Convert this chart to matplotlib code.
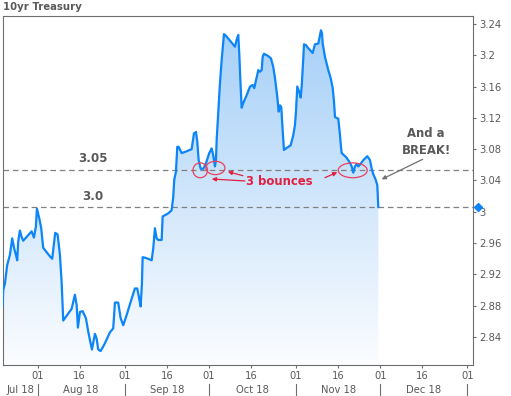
import numpy as np
import matplotlib
matplotlib.use("Agg")
import matplotlib.pyplot as plt
import matplotlib.dates as mdates
import matplotlib.transforms as mtransforms
from matplotlib.patches import Ellipse
from matplotlib.ticker import FuncFormatter
from datetime import datetime, timedelta


# 10yr yield (days counted from 2018-08-01)
base = datetime(2018, 8, 1)
days_from_aug1 = [
    -12.46, -12.25, -11.65, -10.83, -9.86, -9.05, -8.33, -7.73, -7.26, -6.91,
    -6.30, -5.70, -5.13, -2.14, -1.32, -0.61, -0.25, 0.57, 1.28, 1.99,
    4.38, 5.20, 5.56, 6.27, 7.12, 7.94, 8.55, 9.12, 9.72, 12.11,
    13.28, 13.89, 14.35, 15.06, 16.03, 17.20, 18.02, 18.63, 19.34, 20.41,
    21.01, 21.58, 22.44, 23.97, 25.75, 26.92, 27.53, 28.70, 29.56, 30.48,
    31.70, 33.48, 34.65, 35.47, 36.18, 36.68, 37.14, 37.39, 38.57, 40.60,
    41.17, 41.77, 42.38, 42.95, 44.16, 44.52, 46.51, 47.72, 48.29, 48.65,
    49.25, 49.72, 50.21, 51.28, 52.81, 54.84, 55.66, 56.38, 56.84, 57.34,
    58.05, 58.97, 59.94, 61.11, 61.97, 62.54, 63.14, 63.50, 63.75, 64.32,
    64.92, 65.53, 66.35, 67.06, 69.09, 70.26, 70.87, 71.44, 71.79, 72.29,
    72.65, 73.22, 74.43, 75.61, 76.57, 77.14, 77.74, 78.21, 78.56, 79.17,
    79.77, 80.13, 80.59, 82.12, 83.09, 83.90, 84.51, 85.33, 85.83, 86.29,
    86.75, 87.25, 87.71, 88.43, 90.10, 91.03, 91.63, 91.99, 92.45, 93.16,
    93.66, 94.02, 94.37, 94.59, 94.84, 95.55, 96.37, 97.93, 98.75, 99.93,
    100.53, 100.89, 101.25, 101.50, 102.31, 103.49, 104.34, 105.06, 105.52, 105.88,
    107.05, 107.66, 108.01, 108.26, 109.79, 110.97, 111.82, 112.39, 113.00, 113.60,
    114.17, 115.14, 115.95, 117.38, 118.34, 118.95, 119.52, 120.37, 120.94, 121.30,
]
yields = [
    2.879, 2.900, 2.908, 2.932, 2.945, 2.966, 2.953, 2.945, 2.938, 2.962,
    2.976, 2.968, 2.963, 2.975, 2.967, 2.981, 3.004, 2.992, 2.979, 2.954,
    2.943, 2.940, 2.951, 2.973, 2.971, 2.945, 2.910, 2.861, 2.864, 2.876,
    2.894, 2.881, 2.852, 2.872, 2.873, 2.864, 2.847, 2.836, 2.824, 2.844,
    2.838, 2.824, 2.822, 2.832, 2.846, 2.851, 2.884, 2.884, 2.864, 2.855,
    2.868, 2.889, 2.902, 2.902, 2.889, 2.879, 2.908, 2.942, 2.941, 2.938,
    2.953, 2.979, 2.966, 2.964, 2.964, 2.994, 2.998, 3.002, 3.019, 3.041,
    3.051, 3.083, 3.083, 3.075, 3.077, 3.080, 3.100, 3.102, 3.090, 3.066,
    3.055, 3.055, 3.062, 3.075, 3.081, 3.072, 3.058, 3.066, 3.092, 3.126,
    3.164, 3.194, 3.227, 3.225, 3.216, 3.211, 3.220, 3.226, 3.203, 3.160,
    3.133, 3.139, 3.149, 3.160, 3.162, 3.158, 3.168, 3.175, 3.181, 3.179,
    3.181, 3.198, 3.202, 3.199, 3.196, 3.185, 3.171, 3.147, 3.128, 3.136,
    3.134, 3.104, 3.079, 3.081, 3.085, 3.098, 3.111, 3.128, 3.160, 3.153,
    3.146, 3.160, 3.181, 3.196, 3.214, 3.213, 3.209, 3.203, 3.214, 3.215,
    3.226, 3.232, 3.228, 3.215, 3.198, 3.181, 3.171, 3.158, 3.141, 3.121,
    3.119, 3.098, 3.083, 3.075, 3.070, 3.064, 3.058, 3.050, 3.058, 3.061,
    3.058, 3.062, 3.066, 3.071, 3.066, 3.055, 3.048, 3.041, 3.034, 3.006,
]

levels = [3.053, 3.006]
level_labels = ["3.05", "3.0"]
y_ticks = [2.84, 2.88, 2.92, 2.96, 3.00, 3.04, 3.08, 3.12, 3.16, 3.20, 3.24]
month_labels = ["Jul 18", "Aug 18", "Sep 18", "Oct 18", "Nov 18", "Dec 18"]
month_starts = [datetime(2018, m, 1) for m in range(7, 13)] + [datetime(2019, 1, 1)]

# bounce circles: (days from Aug 1, yield, width in days, height in yield)
bounces = [(57.9, 3.053, 5.2, 0.019), (63.3, 3.056, 6.8, 0.017), (112.2, 3.053, 10.3, 0.019)]

blue = "#0b85f7"
red = "#e3203f"
grey = "#595959"

dates = [base + timedelta(days=d) for d in days_from_aug1]
xs = mdates.date2num(dates)
x0 = mdates.date2num(base - timedelta(days=12.5))
x1 = mdates.date2num(base + timedelta(days=154.9))
y0, y1 = 2.8042, 3.2502

fig = plt.figure(figsize=(5.11, 3.96), dpi=100)
ax = fig.add_axes([0.0049, 0.0783, 0.9201, 0.8813])
ax.set_xlim(x0, x1)
ax.set_ylim(y0, y1)

# gradient under the line
top = np.array([0.64, 0.81, 0.97])
bot = np.array([0.985, 0.99, 1.0])
t = np.linspace(0, 1, 256)[:, None]
img = bot + (top - bot) * t
img = img[:, None, :]
im = ax.imshow(img, extent=[x0, x1, y0, y1], origin="lower", aspect="auto", zorder=1)
poly = ax.fill_between(xs, yields, y0, facecolor="none", edgecolor="none")
im.set_clip_path(poly.get_paths()[0], ax.transData)

ax.plot(xs, yields, color=blue, lw=1.6, zorder=3)

for lv in levels:
    ax.axhline(lv, color="#808080", lw=0.9, ls=(0, (4.5, 3)), zorder=2)

# last value marker on the right axis
trans = mtransforms.blended_transform_factory(ax.transAxes, ax.transData)
ax.plot([1.0106], [yields[-1]], marker="D", ms=4.5, color=blue, transform=trans, clip_on=False, zorder=5)

def d2n(d):
    return mdates.date2num(base + timedelta(days=d))

ax.text(d2n(19.6), 3.068, level_labels[0], fontsize=8.6, fontweight="bold", color=grey, ha="center", va="center")
ax.text(d2n(19.6), 3.019, level_labels[1], fontsize=8.6, fontweight="bold", color=grey, ha="center", va="center")

for cx, cy, w, h in bounces:
    ax.add_patch(Ellipse((d2n(cx), cy), d2n(w) - d2n(0), h, fill=False, ec="#e8405e", lw=0.9, zorder=4))

ax.text(d2n(86.1), 3.039, "3 bounces", fontsize=8.4, fontweight="bold", color=red, ha="center", va="center")
arrow_red = dict(arrowstyle="-|>", color=red, lw=0.9, mutation_scale=6, shrinkA=0, shrinkB=0)
ax.annotate("", xy=(d2n(62.0), 3.0419), xytext=(d2n(73.8), 3.0394), arrowprops=arrow_red)
ax.annotate("", xy=(d2n(67.7), 3.0512), xytext=(d2n(73.1), 3.0461), arrowprops=arrow_red)
ax.annotate("", xy=(d2n(106.7), 3.0505), xytext=(d2n(102.3), 3.0436), arrowprops=arrow_red)

ax.text(d2n(138.3), 3.089, "And a\nBREAK!", fontsize=8.4, fontweight="bold", color=grey,
        ha="center", va="center", linespacing=1.35)
ax.annotate("", xy=(d2n(122.5), 3.0415), xytext=(d2n(137.1), 3.0671),
            arrowprops=dict(arrowstyle="-|>", color="#707070", lw=0.9, mutation_scale=6, shrinkA=0, shrinkB=0))

# axes styling
for sp in ax.spines.values():
    sp.set_color("#6e6e6e")
    sp.set_linewidth(0.8)

ax.yaxis.tick_right()
ax.set_yticks(y_ticks)
ax.yaxis.set_major_formatter(FuncFormatter(lambda v, p: "%g" % round(v, 2)))
ax.tick_params(axis="y", length=2.5, width=0.8, color="#6e6e6e", labelcolor=grey, labelsize=7.2, pad=2)

ax.xaxis.set_major_locator(mdates.DayLocator(bymonthday=[1, 16]))
ax.xaxis.set_major_formatter(mdates.DateFormatter("%d"))
ax.tick_params(axis="x", length=2.5, width=0.8, color="#6e6e6e", labelcolor=grey, labelsize=7.2, pad=2)

# month row under the day labels
xtrans = mtransforms.blended_transform_factory(ax.transData, ax.transAxes)
for i, lab in enumerate(month_labels):
    a = max(mdates.date2num(month_starts[i]), x0)
    b = mdates.date2num(month_starts[i + 1])
    ax.text((a + b) / 2, -0.0716, lab, transform=xtrans, fontsize=7.2, color=grey,
            ha="center", va="center", clip_on=False)
for ms_ in month_starts[1:]:
    xm = mdates.date2num(ms_)
    ax.plot([xm, xm], [-0.0544, -0.09], transform=xtrans, color="#6e6e6e", lw=0.8, clip_on=False)

fig.text(0.0065, 0.982, "10yr Treasury", fontsize=7.3, fontweight="bold", color=grey, ha="left", va="center")

fig.savefig("out.png", dpi=100)
